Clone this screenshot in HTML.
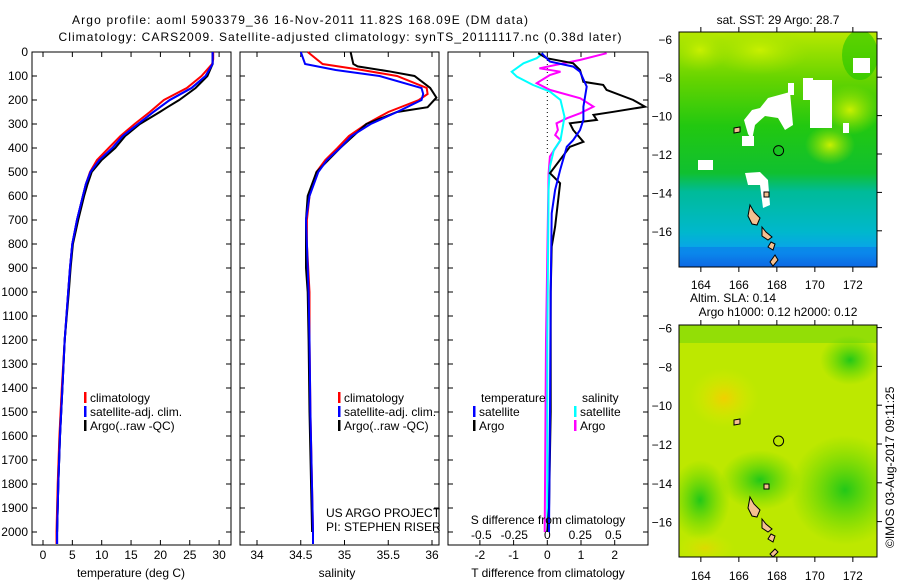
<!DOCTYPE html>
<html><head><meta charset="utf-8"><style>
body{margin:0;background:#fff}
svg{display:block;font-family:"Liberation Sans",sans-serif}
text{font-size:12px;fill:#000}
</style></head><body>
<svg id="c" width="900" height="580" viewBox="0 0 900 580">
<defs>
<linearGradient id="m1" x1="0" y1="0" x2="0" y2="1">
<stop offset="0" stop-color="#b8e800"/><stop offset="0.2" stop-color="#66d400"/><stop offset="0.4" stop-color="#22c810"/>
<stop offset="0.6" stop-color="#10c030"/><stop offset="0.68" stop-color="#00bb99"/><stop offset="0.85" stop-color="#00b8cc"/>
<stop offset="0.94" stop-color="#0a9ff0"/><stop offset="1" stop-color="#1060e0"/></linearGradient>
<radialGradient id="o2" cx="0.5" cy="0.5" r="0.5"><stop offset="0" stop-color="#f0d000"/><stop offset="1" stop-color="#d8ee00" stop-opacity="0"/></radialGradient>
<radialGradient id="g2" cx="0.5" cy="0.5" r="0.5"><stop offset="0" stop-color="#22c818"/><stop offset="1" stop-color="#55d400" stop-opacity="0"/></radialGradient>
<radialGradient id="y1" cx="0.5" cy="0.5" r="0.5"><stop offset="0" stop-color="#c8f000"/><stop offset="1" stop-color="#a0e000" stop-opacity="0"/></radialGradient>
<clipPath id="cm1"><rect x="679" y="32" width="198" height="235"/></clipPath>
<clipPath id="cm2"><rect x="679" y="325" width="198" height="232"/></clipPath>
</defs>
<g>
<text x="300" y="24" text-anchor="middle" font-size="13" textLength="456">Argo profile: aoml 5903379_36 16-Nov-2011 11.82S 168.09E (DM data)</text>
<text x="340" y="41" text-anchor="middle" font-size="13" textLength="563">Climatology: CARS2009. Satellite-adjusted climatology: synTS_20111117.nc (0.38d later)</text>
</g>
<g id="maps">
<g clip-path="url(#cm1)">
<rect x="679" y="32" width="198" height="235" fill="url(#m1)"/>
<ellipse cx="700" cy="50" rx="30" ry="22" fill="url(#y1)"/>
<ellipse cx="760" cy="50" rx="50" ry="25" fill="url(#y1)"/>
<ellipse cx="850" cy="110" rx="30" ry="25" fill="url(#y1)"/>
<ellipse cx="830" cy="145" rx="25" ry="20" fill="url(#y1)"/>
<ellipse cx="860" cy="55" rx="18" ry="25" fill="#22c400" opacity="0.6"/>
<rect x="679" y="247" width="198" height="20" fill="#0a70e8" opacity="0.5"/>
<g fill="#fff">
<polygon points="768,98 790,92 793,125 785,130 778,118 765,116 755,125 752,140 748,134 744,120 752,110 760,108"/>
<rect x="810" y="80" width="22" height="48"/><rect x="803" y="78" width="10" height="22"/>
<rect x="853" y="58" width="17" height="15"/><rect x="788" y="83" width="6" height="12"/>
<rect x="698" y="160" width="15" height="10"/>
<polygon points="745,173 760,172 768,180 770,205 763,208 760,185 748,185"/>
<rect x="843" y="123" width="6" height="10"/><rect x="742" y="136" width="12" height="10"/>
</g>
<g fill="#f4c090" stroke="#000" stroke-width="1">
<polygon points="750,205 754,212 760,218 757,225 752,224 748,216"/>
<polygon points="762,227 766,232 772,237 768,240 762,236"/>
<polygon points="771,242 775,244 773,250 768,247"/>
<polygon points="775,255 778,260 773,266 770,262"/>
<polygon points="734,128 740,127 740,132 734,133"/>
<polygon points="764,192 769,192 769,197 764,197"/>
</g>
<circle cx="778.6" cy="150.6" r="5" fill="none" stroke="#000"/>
</g>
<rect x="679" y="32" width="198" height="235" fill="none" stroke="#000"/>
<g clip-path="url(#cm2)">
<rect x="679" y="325" width="198" height="232" fill="#bde800"/>
<rect x="679" y="325" width="198" height="18" fill="#44cc10" opacity="0.35"/>
<ellipse cx="724" cy="398" rx="35" ry="30" fill="url(#o2)"/>
<ellipse cx="845" cy="490" rx="55" ry="55" fill="url(#g2)"/>
<ellipse cx="760" cy="480" rx="40" ry="30" fill="url(#g2)"/>
<ellipse cx="700" cy="500" rx="30" ry="40" fill="url(#g2)"/>
<ellipse cx="850" cy="360" rx="30" ry="25" fill="url(#g2)"/>
<ellipse cx="705" cy="548" rx="30" ry="15" fill="url(#o2)" opacity="0.6"/>
<g fill="#f4c090" stroke="#000" stroke-width="1">
<polygon points="750,497 754,504 760,510 757,517 752,516 748,508"/>
<polygon points="762,519 766,524 772,529 768,532 762,528"/>
<polygon points="771,534 775,536 773,542 768,539"/>
<polygon points="775,549 778,552 773,557 770,554"/>
<polygon points="734,420 740,419 740,424 734,425"/>
<polygon points="764,484 769,484 769,489 764,489"/>
</g>
<circle cx="778.6" cy="441" r="5" fill="none" stroke="#000"/>
</g>
<rect x="679" y="325" width="198" height="232" fill="none" stroke="#000"/>
<text x="778" y="24" text-anchor="middle">sat. SST: 29 Argo: 28.7</text>
<text x="733" y="302" text-anchor="middle">Altim. SLA: 0.14</text>
<text x="778" y="316" text-anchor="middle">Argo h1000: 0.12 h2000: 0.12</text>
<text transform="translate(894,548) rotate(-90)">©IMOS 03-Aug-2017 09:11:25</text>
</g>
<g id="plots"></g>
</svg>
<script>
// ---- data ----
const depthT = [0,30,50,100,150,200,250,300,350,400,450,500,550,600,700,800,900,1000,1200,1400,1600,1800,2000,2050];
const tempClim = [29,29,28.8,27,24.5,20.6,18.2,15.6,13.2,11.2,9.2,8.0,7.3,6.8,5.8,5.0,4.6,4.3,3.7,3.2,2.8,2.5,2.3,2.3];
const tempSat  = [28.9,28.9,28.9,27.7,25.3,21.6,18.8,16.2,13.6,11.8,9.6,8.1,7.3,6.8,5.8,5.0,4.6,4.3,3.7,3.3,2.9,2.6,2.4,2.4];
const depthTA = [0,30,50,100,150,200,230,250,300,350,400,450,500,550,600,700,800,900,1000,1200,1400,1600,1800,2000];
const tempArgo = [28.9,28.9,28.9,28.0,26.0,23.2,21.2,19.9,16.5,14.0,12.3,10.0,8.3,7.6,7.0,6.0,5.1,4.7,4.4,3.7,3.3,2.9,2.6,2.4];
const depthS = [0,50,75,100,150,175,200,250,300,350,400,450,500,600,700,800,1000,1200,1500,2000,2050];
const salClim = [34.58,34.75,35.2,35.6,35.94,35.95,35.85,35.5,35.25,35.05,34.92,34.78,34.68,34.6,34.57,34.57,34.6,34.6,34.61,34.64,34.64];
const salSat  = [34.5,34.55,34.9,35.4,35.88,35.9,35.88,35.6,35.3,35.08,34.95,34.8,34.7,34.6,34.56,34.57,34.59,34.6,34.61,34.64,34.64];
const depthSA = [0,50,60,80,100,150,190,230,250,300,400,500,600,700,900,1000,1200,1500,2000];
const salArgo = [35.07,35.1,35.15,35.5,35.8,35.98,36.05,35.95,35.6,35.25,34.95,34.68,34.58,34.56,34.56,34.58,34.59,34.6,34.63];
const depthDT = [5,26,47,75,124,137,158,200,228,249,262,283,297,325,374,395,505,547,728,811,1000,1500,1900,2000];
const dtArgo = [-0.27,-0.02,0.77,0.97,1.07,1.66,1.76,2.55,2.9,1.96,1.37,1.47,0.67,0.77,1.07,0.67,0.08,0.38,0.23,0.13,0.1,0.1,0.05,0.0];
const depthDTS = [5,40,61,82,144,228,283,325,367,395,492,575,672,1000,1500,2000];
const dtSat = [-0.17,0.08,0.77,0.97,1.17,1.07,1.07,0.97,0.77,0.58,0.38,0.23,0.13,0.1,0.08,0.05];
const depthDS = [5,26,47,82,103,137,165,200,270,367,408,478,575,1200,2000];
const dsSat = [-0.03,-0.08,-0.18,-0.27,-0.23,-0.11,0.02,0.1,0.13,0.1,0.05,0.02,0.01,0.0,0.0];
const depthDSA = [5,33,68,82,96,130,158,193,228,255,276,297,325,346,367,436,505,1200,2000];
const dsArgo = [0.45,0.25,-0.06,0.1,0.02,-0.08,0.02,0.25,0.35,0.25,0.15,0.07,0.08,0.06,0.1,0.02,0.01,-0.01,-0.02];
const depthTicks = [0,100,200,300,400,500,600,700,800,900,1000,1100,1200,1300,1400,1500,1600,1700,1800,1900,2000];
const tempTicks = [0,5,10,15,20,25,30];
const salTicks = [34,34.5,35,35.5,36];
const dtTicks = [-2,-1,0,1,2];
const dsTicks = [-0.5,-0.25,0,0.25,0.5];
const dsTickLabels = ["-0.5","-0.25","0","0.25","0.5"];
// ---- axes ----
const yD = d => 52 + d*0.24;
const xT = v => 43 + v*5.87;
const xS = v => 257 + (v-34)*87.5;
const xDT = v => 547.3 + v*33.7;
const xDS = v => 547.3 + v*132;
const NS='http://www.w3.org/2000/svg';
const root=document.getElementById('plots');
function mk(tag,attrs,parent){const e=document.createElementNS(NS,tag);for(const k in attrs)e.setAttribute(k,attrs[k]);(parent||root).appendChild(e);return e;}
function txt(x,y,s,anchor,parent){const t=mk('text',{x:x,y:y,'text-anchor':anchor||'start'},parent);t.textContent=s;return t;}
function line(xs,ds,fx,color,name){
  const pts=xs.map((v,i)=>fx(v).toFixed(1)+','+yD(ds[i]).toFixed(1)).join(' ');
  const p=mk('polyline',{points:pts,fill:'none',stroke:color,'stroke-width':2});
  
  
}
function frame(x0,x1,name){
  const r=mk('rect',{x:x0,y:52,width:x1-x0,height:493,fill:'none',stroke:'#000'});
  
  
  depthTicks.forEach(d=>{mk('line',{x1:x0,x2:x0+5,y1:yD(d),y2:yD(d),stroke:'#000'});mk('line',{x1:x1-5,x2:x1,y1:yD(d),y2:yD(d),stroke:'#000'});});
}
// temperature panel
frame(32,231,'temperature-panel-frame');
depthTicks.forEach(d=>{const t=txt(28,yD(d)+4,String(d),'end');});
tempTicks.forEach(v=>{mk('line',{x1:xT(v),x2:xT(v),y1:52,y2:57,stroke:'#000'});mk('line',{x1:xT(v),x2:xT(v),y1:540,y2:545,stroke:'#000'});const t=txt(xT(v),559,String(v),'middle');});
const tt=txt(131,577,'temperature (deg C)','middle');
line(tempClim,depthT,xT,'#f00','temp-climatology-line');
line(tempSat,depthT,xT,'#00f','temp-satellite-line');
line(tempArgo,depthTA,xT,'#000','temp-argo-line');
line(tempSat,depthT,xT,'#00f','temp-satellite-line-top');
// salinity panel
frame(240,439,'salinity-panel-frame');
salTicks.forEach(v=>{mk('line',{x1:xS(v),x2:xS(v),y1:52,y2:57,stroke:'#000'});mk('line',{x1:xS(v),x2:xS(v),y1:540,y2:545,stroke:'#000'});const t=txt(xS(v),559,String(v),'middle');});
const st=txt(337,577,'salinity','middle');
line(salClim,depthS,xS,'#f00','sal-climatology-line');
line(salArgo,depthSA,xS,'#000','sal-argo-line');
line(salSat,depthS,xS,'#00f','sal-satellite-line');
// diff panel
frame(448,648,'difference-panel-frame');
dtTicks.forEach(v=>{mk('line',{x1:xDT(v),x2:xDT(v),y1:52,y2:57,stroke:'#000'});mk('line',{x1:xDT(v),x2:xDT(v),y1:540,y2:545,stroke:'#000'});const t=txt(xDT(v),559,String(v),'middle');});
dsTicks.forEach((v,i)=>{const t=txt(xDS(v),539,dsTickLabels[i],'middle');});
mk('line',{x1:xDT(0),x2:xDT(0),y1:60,y2:153,stroke:'#000','stroke-dasharray':'1,3'});
line(dsArgo,depthDSA,xDS,'#f0f','s-diff-argo-line');
line(dsSat,depthDS,xDS,'#0ff','s-diff-satellite-line');
line(dtArgo,depthDT,xDT,'#000','t-diff-argo-line');
line(dtSat,depthDTS,xDT,'#00f','t-diff-satellite-line');
const dt1=txt(548,524,'S difference from climatology','middle');
const dt2=txt(548,577,'T difference from climatology','middle');
// legends
function leg(x,y,color,label,name){
  const g=mk('g',{});
  
  
  if(color) mk('rect',{x:x,y:y-10,width:2.5,height:11,fill:color},g);
  txt(x+6,y,label,'start',g);
}
leg(84,402,'#f00','climatology','legend-temp-climatology');
leg(84,416,'#00f','satellite-adj. clim.','legend-temp-satellite');
leg(84,430,'#000','Argo(..raw -QC)','legend-temp-argo');
leg(338,402,'#f00','climatology','legend-sal-climatology');
leg(338,416,'#00f','satellite-adj. clim.','legend-sal-satellite');
leg(338,430,'#000','Argo(..raw -QC)','legend-sal-argo');
leg(475,402,null,'temperature','legend-diff-temp-heading');
leg(473,416,'#00f','satellite','legend-diff-temp-satellite');
leg(473,430,'#000','Argo','legend-diff-temp-argo');
leg(576,402,null,'salinity','legend-diff-sal-heading');
leg(574,416,'#0ff','satellite','legend-diff-sal-satellite');
leg(574,430,'#f0f','Argo','legend-diff-sal-argo');
const p1=txt(326,517,'US ARGO PROJECT');
const p2=txt(326,531,'PI: STEPHEN RISER');
// map axes
const lonTicks=[164,166,168,170,172];
const latTicks=[-6,-8,-10,-12,-14,-16];
const xLon=v=>679+(v-162.85)*19;
const yLat1=v=>154+(-12-v)*19.2;
const yLat2=v=>444+(-12-v)*19.4;
const mg=document.getElementById('maps');
lonTicks.forEach(v=>{
  const t=txt(xLon(v),289,String(v),'middle',mg);
  const u=txt(xLon(v),580,String(v),'middle',mg);
  mk('line',{x1:xLon(v),x2:xLon(v),y1:267,y2:272,stroke:'#000'},mg);mk('line',{x1:xLon(v),x2:xLon(v),y1:27,y2:32,stroke:'#000'},mg);
  mk('line',{x1:xLon(v),x2:xLon(v),y1:557,y2:562,stroke:'#000'},mg);mk('line',{x1:xLon(v),x2:xLon(v),y1:320,y2:325,stroke:'#000'},mg);
});
latTicks.forEach(v=>{
  const y1=yLat1(v),y2=yLat2(v);
  const t=txt(672,y1+5,String(v).replace('-','\u2212'),'end',mg);
  const u=txt(672,y2+5,String(v).replace('-','\u2212'),'end',mg);
  mk('line',{x1:877,x2:882,y1:y1,y2:y1,stroke:'#000'},mg);mk('line',{x1:877,x2:882,y1:y2,y2:y2,stroke:'#000'},mg);
});
</script>
</body></html>
